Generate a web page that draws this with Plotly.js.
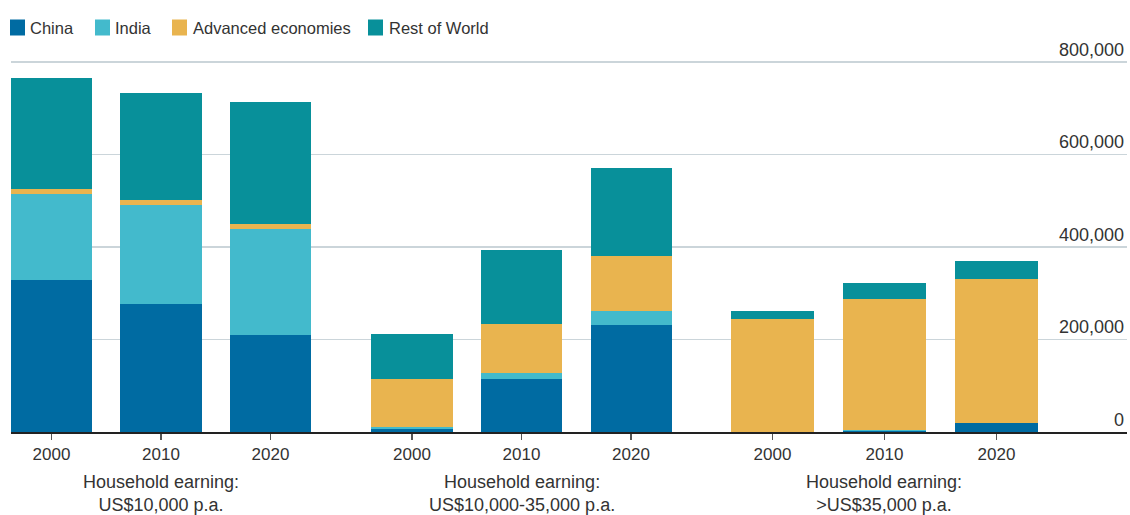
<!DOCTYPE html>
<html>
<head>
<meta charset="utf-8">
<script src="https://cdn.plot.ly/plotly-3.0.1.min.js"></script>
<style>
  html, body { margin: 0; padding: 0; background: #ffffff; }
  #chart { width: 1130px; height: 515px; }
</style>
</head>
<body>
<div id="chart"></div>
<script>
// ---- Data ----
const years = ['2000', '2010', '2020'];
const groupLabels = [
  'Household earning:<br>US$10,000 p.a.',
  'Household earning:<br>US$10,000-35,000 p.a.',
  'Household earning:<br>>US$35,000 p.a.'
];
const seriesNames = ['China', 'India', 'Advanced economies', 'Rest of World'];
// values per series: [group1 2000, 2010, 2020, group2 2000, 2010, 2020, group3 2000, 2010, 2020]
const china    = [328000, 277000, 210000,   6500, 115000, 231000,      0,   2000,  19500];
const india    = [186000, 214000, 228500,   4300,  13000,  30300,      0,   2000,      0];
const advanced = [ 10800,  10800,  10800, 104000, 106000, 119000, 244000, 283000, 311000];
const rest     = [240000, 231000, 264000,  97000, 160000, 190000,  17300,  34600,  39000];
const yTicks   = [0, 200000, 400000, 600000, 800000];
const yTickText = ['0', '200,000', '400,000', '600,000', '800,000'];

// ---- Styles / layout ----
const colors = ['#006BA2', '#43BACC', '#E9B44F', '#08909A'];
const FONT = '"Liberation Sans", Arial, sans-serif';
const TXT = '#333333';
const W = 1130, H = 515;
const M = { l: 11, r: 3, t: 22, b: 83 };
const plotW = W - M.l - M.r, plotH = H - M.t - M.b;
const px2x = p => (p - M.l) / plotW;          // pixel -> paper x
const py2y = p => (H - M.b - p) / plotH;      // pixel -> paper y
// legend layout (pixel positions of swatch and text starts)
const legendSwatchX = [10, 95, 172, 368];
const legendTextX = [28, 113, 191, 387];

const seriesData = [china, india, advanced, rest];
const axisIds = ['x', 'x2', 'x3'];

const traces = [];
for (let g = 0; g < 3; g++) {
  for (let s = 0; s < seriesNames.length; s++) {
    traces.push({
      type: 'bar',
      name: seriesNames[s],
      legendgroup: seriesNames[s],
      showlegend: false,
      x: years,
      y: seriesData[s].slice(g * 3, g * 3 + 3),
      xaxis: axisIds[g],
      yaxis: 'y',
      marker: { color: colors[s], line: { width: 0 } },
      hoverinfo: 'x+y+name'
    });
  }
}

function xAxis(domain, range) {
  return {
    type: 'category',
    domain: domain,
    range: range,
    showgrid: false,
    zeroline: false,
    showline: true,
    linecolor: '#222222',
    linewidth: 1.5,
    ticks: 'outside',
    ticklen: 6,
    tickwidth: 1.5,
    tickcolor: '#555555',
    tickfont: { family: FONT, size: 17, color: TXT },
    fixedrange: true,
    anchor: 'y'
  };
}

const annotations = groupLabels.map((t, i) => ({
  xref: axisIds[i],
  yref: 'paper',
  x: 1,
  y: py2y(470),
  yanchor: 'top',
  xanchor: 'center',
  showarrow: false,
  text: t,
  align: 'center',
  font: { family: FONT, size: 18, color: TXT }
}));

const shapes = [];
seriesNames.forEach((name, i) => {
  shapes.push({
    type: 'rect',
    xref: 'paper', yref: 'paper',
    x0: px2x(legendSwatchX[i]), x1: px2x(legendSwatchX[i] + 15),
    y0: py2y(35.5), y1: py2y(19.5),
    fillcolor: colors[i],
    line: { width: 0 }
  });
  annotations.push({
    xref: 'paper', yref: 'paper',
    x: px2x(legendTextX[i]), y: py2y(27.5),
    xanchor: 'left', yanchor: 'middle',
    showarrow: false,
    text: name,
    font: { family: FONT, size: 16.5, color: TXT }
  });
});

const layout = {
  width: W,
  height: H,
  margin: { l: M.l, r: M.r, t: M.t, b: M.b, autoexpand: false },
  paper_bgcolor: '#ffffff',
  plot_bgcolor: '#ffffff',
  barmode: 'stack',
  bargap: 0.26,
  font: { family: FONT, size: 18, color: TXT },
  showlegend: false,
  xaxis: xAxis([0, px2x(341)], [-0.37, 2.644]),
  xaxis2: xAxis([px2x(341), px2x(702)], [-0.648, 2.648]),
  xaxis3: xAxis([px2x(702), 1], [-0.629, 3.165]),
  yaxis: {
    side: 'right',
    anchor: 'x3',
    range: [0, 800000 * plotH / 370],
    tickvals: yTicks,
    ticktext: yTickText,
    ticklabelposition: 'inside top',
    ticks: '',
    showgrid: true,
    gridcolor: '#CBD5DA',
    gridwidth: 1.5,
    zeroline: false,
    showline: false,
    tickfont: { family: FONT, size: 18, color: TXT },
    fixedrange: true
  },
  shapes: shapes,
  annotations: annotations
};

Plotly.newPlot('chart', traces, layout, { displayModeBar: false, staticPlot: true });
</script>
</body>
</html>
